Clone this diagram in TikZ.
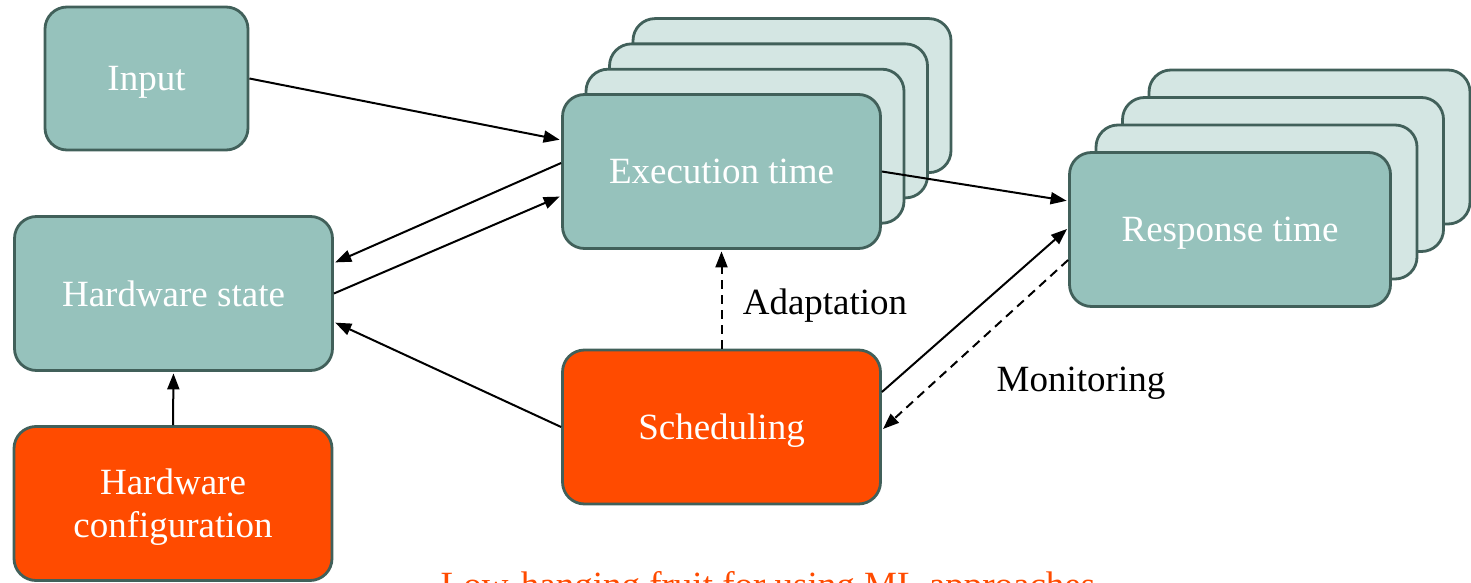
\documentclass[tikz,border=0pt]{standalone}
\usepackage{fontspec}
\setmainfont{Liberation Serif}
\usetikzlibrary{arrows.meta}
\definecolor{tealfill}{HTML}{96C2BC}
\definecolor{tealline}{HTML}{41605A}
\definecolor{tealpale}{HTML}{D4E6E3}
\definecolor{hotorange}{HTML}{FF4B00}

\begin{document}
\begin{tikzpicture}[x=1pt, y=-1pt,
  every node/.style={font=\fontsize{37}{43}\selectfont},
  box/.style={draw=tealline, line width=2.8pt, rounded corners=22pt, fill=tealfill, text=white, align=center, minimum width=318pt, minimum height=154pt, inner sep=0pt, text depth=0pt},
  backbox/.style={box, fill=tealpale},
  hotbox/.style={box, fill=hotorange},
  link/.style={line width=2pt, -{Triangle[length=16pt,width=12pt]}, shorten >=1.5pt},
  probe/.style={link, dash pattern=on 9pt off 6pt}]
  \useasboundingbox (0,0) rectangle (1471,583);

  % Stacked copies behind the timing boxes
  \foreach \k in {3,2,1} {
    \node[backbox] (execback\k) at (721.5+23.5*\k, 171.5-25.3*\k) {};
    \node[backbox, minimum width=321pt] (respback\k) at (1230+26.5*\k, 229.5-27.5*\k) {};
  }

  % Boxes
  \node[box, minimum width=203pt, minimum height=143pt] (input) at (146.5,78.5) {Input};
  \node[box] (hwstate) at (173.5,293.5) {Hardware state};
  \node[hotbox] (hwconf) at (173,503.5) {Hardware\\configuration};
  \node[box] (exec) at (721.5,171.5) {Execution time};
  \node[box, minimum width=321pt] (resp) at (1230,229.5) {Response time};
  \node[hotbox] (sched) at (721.5,427) {Scheduling};

  % Connectors
  \draw[link] (input.east) -- ([yshift=31.5pt]exec.west);
  \draw[link] ([yshift=8.5pt]exec.west) -- ([yshift=30.5pt]hwstate.east);
  \draw[link] (hwstate.east) -- ([yshift=-24.5pt]exec.west);
  \draw[link] (sched.west) -- ([yshift=-28.5pt]hwstate.east);
  \draw[link] (hwconf.north) -- (hwstate.south);
  \draw[probe] (sched.north) -- (exec.south);
  \draw[link] (exec.east) -- ([yshift=28.5pt]resp.west);
  \draw[link] ([yshift=35pt]sched.east) -- ([yshift=1.5pt]resp.west);
  \draw[probe] ([yshift=-30.5pt]resp.west) -- ([yshift=-3pt]sched.east);

  % Labels
  \node (adapt) at (825,306) {Adaptation};
  \node (monit) at (1081,383) {Monitoring};
  \node[text=hotorange, anchor=base] (fruit) at (768,597) {Low-hanging fruit for using ML approaches};
\end{tikzpicture}
\end{document}
